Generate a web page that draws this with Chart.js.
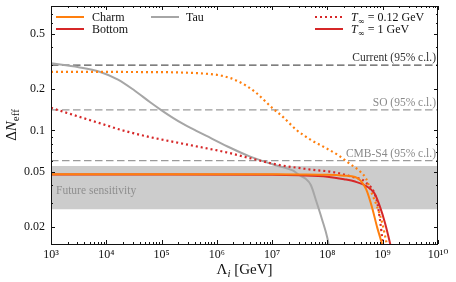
<!DOCTYPE html>
<html>
<head>
<meta charset="utf-8">
<script src="https://cdn.jsdelivr.net/npm/chart.js@4.4.0/dist/chart.umd.min.js"></script>
<style>
  html, body { margin: 0; padding: 0; background: #fff; }
</style>
</head>
<body>
<canvas id="neffChart" width="456" height="282"></canvas>
<script>
// Lambda_i [GeV] and Delta N_eff
// T_inf = 1 GeV (solid)
const charmHotL  = [1e3, 1e5, 1e7, 3.16e7, 1e8, 2e8, 3.16e8, 3.98e8, 5.01e8, 6.31e8, 7.94e8, 9.55e8, 1.12e9];
const charmHotN  = [0.0482, 0.0482, 0.0481, 0.0480, 0.0477, 0.0470, 0.0460, 0.0432, 0.0375, 0.0283, 0.0198, 0.0153, 0.0115];
const bottomHotL = [1e3, 1e5, 1e7, 3.16e7, 1e8, 2e8, 3.16e8, 5.01e8, 7.08e8, 8.91e8, 1.10e9, 1.35e9, 1.58e9];
const bottomHotN = [0.0480, 0.0480, 0.0478, 0.0473, 0.0462, 0.0443, 0.0426, 0.0395, 0.0350, 0.0280, 0.0213, 0.0153, 0.0115];
// T_inf = 0.12 GeV (dotted)
const charmColdL  = [1e3, 1e5, 3.16e5, 6.31e5, 1.26e6, 2.51e6, 5.01e6, 1e7, 1.58e7, 2.75e7, 5.01e7, 1e8, 1.58e8, 2.51e8, 3.98e8, 5.01e8, 6.31e8, 7.94e8, 1e9, 1.17e9, 1.35e9];
const charmColdN  = [0.266, 0.265, 0.262, 0.258, 0.249, 0.226, 0.189, 0.146, 0.125, 0.101, 0.0855, 0.0735, 0.066, 0.0575, 0.050, 0.0446, 0.0352, 0.0279, 0.0206, 0.0153, 0.0115];
const bottomColdL = [1e3, 3.16e3, 7.59e3, 2e4, 6.03e4, 3.16e5, 1.58e6, 5.89e6, 1.38e7, 3.55e7, 5.37e7, 1.23e8, 2.82e8, 5.01e8, 7.76e8, 8.91e8, 1e9, 1.12e9];
const bottomColdN = [0.146, 0.126, 0.113, 0.100, 0.0897, 0.0785, 0.0690, 0.0605, 0.0560, 0.0530, 0.0518, 0.0500, 0.0460, 0.0418, 0.0313, 0.0226, 0.0153, 0.0105];
// Tau
const tauL = [1e3, 3.15e3, 7.55e3, 1.63e4, 3.24e4, 6.31e4, 1e5, 1.58e5, 2.5e5, 3.95e5, 6.5e5, 1.56e6, 3.92e6, 1.2e7, 2.35e7, 3.16e7, 3.98e7, 5.01e7, 6.31e7, 7.94e7, 1e8, 1.15e8];
const tauN = [0.307, 0.288, 0.267, 0.234, 0.195, 0.1595, 0.140, 0.124, 0.111, 0.101, 0.0912, 0.0765, 0.0648, 0.0557, 0.0513, 0.0472, 0.0448, 0.0402, 0.0305, 0.0228, 0.0165, 0.012];

// experimental limits
const limitNames  = ['Current (95% c.l.)', 'SO (95% c.l.)', 'CMB-S4 (95% c.l.)'];
const limitValues = [0.298, 0.141, 0.0605];
const bandRange   = [0.0268, 0.0553];

// axes
const xDecades = [1e3, 1e4, 1e5, 1e6, 1e7, 1e8, 1e9, 1e10];
const xSup = ['\u00b3', '\u2074', '\u2075', '\u2076', '\u2077', '\u2078', '\u2079', '\u00b9\u2070'];
const yTicks = [0.02, 0.03, 0.04, 0.05, 0.06, 0.07, 0.08, 0.09, 0.1, 0.2, 0.3, 0.4, 0.5, 0.6, 0.7, 0.8];
const yLabelled = [0.02, 0.05, 0.1, 0.2, 0.5];

const ORANGE = '#ff7f0e', RED = '#d62728', GREY = '#a6a6a6';
const SERIF = '"Liberation Serif", "DejaVu Serif", serif';
const DOTS = [2, 3];

const xTicks = [];
xDecades.forEach((d, i) => {
  xTicks.push(d);
  if (i < xDecades.length - 1) for (let m = 2; m <= 9; m++) xTicks.push(m * d);
});

const pts = (xs, ys) => xs.map((v, i) => ({ x: v, y: ys[i] }));
const hline = v => [{ x: 1e3, y: v }, { x: 1e10, y: v }];

const curve = (data, color, dotted) => ({
  data, borderColor: color, borderWidth: dotted ? 2.2 : 2,
  borderDash: dotted ? DOTS : [], pointRadius: 0,
  cubicInterpolationMode: 'monotone', fill: false
});

// first dataset is drawn on top in Chart.js
const datasets = [
  curve(pts(charmHotL, charmHotN), ORANGE, false),
  curve(pts(bottomHotL, bottomHotN), RED, false),
  curve(pts(charmColdL, charmColdN), ORANGE, true),
  curve(pts(bottomColdL, bottomColdN), RED, true),
  curve(pts(tauL, tauN), GREY, false),
  { data: hline(limitValues[0]), borderColor: '#555', borderWidth: 1.2, borderDash: [7.5, 3.5], pointRadius: 0, fill: false },
  { data: hline(limitValues[1]), borderColor: '#9a9a9a', borderWidth: 1.2, borderDash: [7.5, 3.5], pointRadius: 0, fill: false },
  { data: hline(limitValues[2]), borderColor: '#9a9a9a', borderWidth: 1.2, borderDash: [7.5, 3.5], pointRadius: 0, fill: false },
  { data: hline(bandRange[1]), borderWidth: 0, pointRadius: 0, fill: '+1', backgroundColor: '#cccccc' },
  { data: hline(bandRange[0]), borderWidth: 0, pointRadius: 0, fill: false }
];

function rich(ctx, parts, x, y, align) {
  let w = 0;
  parts.forEach(p => { ctx.font = p.font; p.w = ctx.measureText(p.t).width; w += p.w; });
  let cx = align === 'right' ? x - w : align === 'center' ? x - w / 2 : x;
  parts.forEach(p => { ctx.font = p.font; ctx.fillText(p.t, cx, y + (p.dy || 0)); cx += p.w; });
}

const decorations = {
  id: 'decorations',
  afterDraw(chart) {
    const { ctx, chartArea: a, scales: { x, y } } = chart;
    ctx.save();
    ctx.strokeStyle = '#111';
    ctx.lineWidth = 1;
    const seg = (x1, y1, x2, y2) => { ctx.beginPath(); ctx.moveTo(x1, y1); ctx.lineTo(x2, y2); ctx.stroke(); };
    // inward ticks on all four sides
    x.ticks.forEach(t => {
      const px = Math.round(x.getPixelForValue(t.value)) + 0.5;
      const len = xDecades.includes(t.value) ? 4 : 2;
      seg(px, a.bottom, px, a.bottom - len);
      seg(px, a.top, px, a.top + len);
    });
    y.ticks.forEach(t => {
      const py = Math.round(y.getPixelForValue(t.value)) + 0.5;
      const len = yLabelled.includes(t.value) || t.value === 0.1 ? 4 : 2;
      seg(a.left, py, a.left + len, py);
      seg(a.right, py, a.right - len, py);
    });
    ctx.strokeRect(Math.round(a.left) + 0.5, Math.round(a.top) + 0.5,
      Math.round(a.right - a.left) - 1, Math.round(a.bottom - a.top));

    // limit labels
    ctx.textBaseline = 'alphabetic';
    const labelColors = ['#333', '#8a8a8a', '#8a8a8a'];
    limitNames.forEach((name, i) => {
      ctx.fillStyle = labelColors[i];
      ctx.font = '11.5px ' + SERIF;
      ctx.textAlign = 'right';
      ctx.fillText(name, a.right - 2, y.getPixelForValue(limitValues[i]) - 4);
    });
    ctx.textAlign = 'left';
    ctx.fillStyle = '#8f8f8f';
    ctx.font = '11.5px ' + SERIF;
    ctx.fillText('Future sensitivity', a.left + 5,
      y.getPixelForValue(Math.sqrt(bandRange[0] * bandRange[1])) + 6);

    // legends
    const legLine = (x1, yy, color, dotted) => {
      ctx.strokeStyle = color;
      ctx.lineWidth = 2;
      ctx.setLineDash(dotted ? DOTS : []);
      seg(x1, yy, x1 + 28, yy);
      ctx.setLineDash([]);
    };
    ctx.fillStyle = '#111';
    ctx.font = '12px ' + SERIF;
    const r1 = a.top + 11, r2 = a.top + 23;
    legLine(a.left + 5, r1, ORANGE);
    ctx.fillText('Charm', a.left + 41, r1 + 4);
    legLine(a.left + 5, r2, RED);
    ctx.fillText('Bottom', a.left + 41, r2 + 4);
    legLine(a.left + 100, r1, GREY);
    ctx.fillText('Tau', a.left + 135, r1 + 4);

    legLine(a.right - 123, r1, RED, true);
    legLine(a.right - 123, r2, RED, false);
    const it = 'italic 12px ' + SERIF, rm = '12px ' + SERIF, sub = '8.5px "DejaVu Serif", serif';
    rich(ctx, [{ t: 'T', font: it }, { t: '\u221e', font: sub, dy: 3 }, { t: ' = 0.12 GeV', font: rm }], a.right - 87, r1 + 4, 'left');
    rich(ctx, [{ t: 'T', font: it }, { t: '\u221e', font: sub, dy: 3 }, { t: ' = 1 GeV', font: rm }], a.right - 87, r2 + 4, 'left');

    // axis titles
    ctx.fillStyle = '#111';
    rich(ctx, [{ t: '\u039b', font: '15px ' + SERIF }, { t: 'i', font: 'italic 11px ' + SERIF, dy: 3 },
      { t: ' [GeV]', font: '15px ' + SERIF }], (a.left + a.right) / 2, 274, 'center');
    ctx.translate(16, (a.top + a.bottom) / 2);
    ctx.rotate(-Math.PI / 2);
    rich(ctx, [{ t: '\u0394', font: '15px ' + SERIF }, { t: 'N', font: 'italic 15px ' + SERIF },
      { t: 'eff', font: '11px ' + SERIF, dy: 3 }], 0, 0, 'center');
    ctx.restore();
  }
};

const tickFont = { family: SERIF, size: 12 };

new Chart(document.getElementById('neffChart'), {
  type: 'line',
  data: { datasets },
  options: {
    responsive: false,
    devicePixelRatio: 1,
    animation: false,
    layout: { padding: { left: 0, right: 18, top: 6, bottom: 0 } },
    plugins: {
      legend: { display: false },
      tooltip: { enabled: false },
      filler: { drawTime: 'beforeDatasetsDraw' }
    },
    scales: {
      x: {
        type: 'logarithmic', min: 1e3, max: 1e10,
        afterBuildTicks: s => { s.ticks = xTicks.map(v => ({ value: v })); },
        afterFit: s => { s.height = 38; s.paddingLeft = 0; s.paddingRight = 0; },
        grid: { display: false, drawTicks: false },
        border: { display: false },
        ticks: {
          autoSkip: false, maxRotation: 0, minRotation: 0, padding: 4,
          font: tickFont, color: '#111',
          callback: v => { const i = xDecades.indexOf(v); return i >= 0 ? '10' + xSup[i] : ''; }
        }
      },
      y: {
        type: 'logarithmic', min: 0.015, max: 0.8,
        afterBuildTicks: s => { s.ticks = yTicks.map(v => ({ value: v })); },
        afterFit: s => { s.width = 51; s.paddingTop = 0; s.paddingBottom = 0; },
        grid: { display: false, drawTicks: false },
        border: { display: false },
        ticks: {
          autoSkip: false, padding: 6, font: tickFont, color: '#111',
          callback: v => yLabelled.includes(v) ? String(v) : ''
        }
      }
    }
  },
  plugins: [decorations]
});
</script>
</body>
</html>
